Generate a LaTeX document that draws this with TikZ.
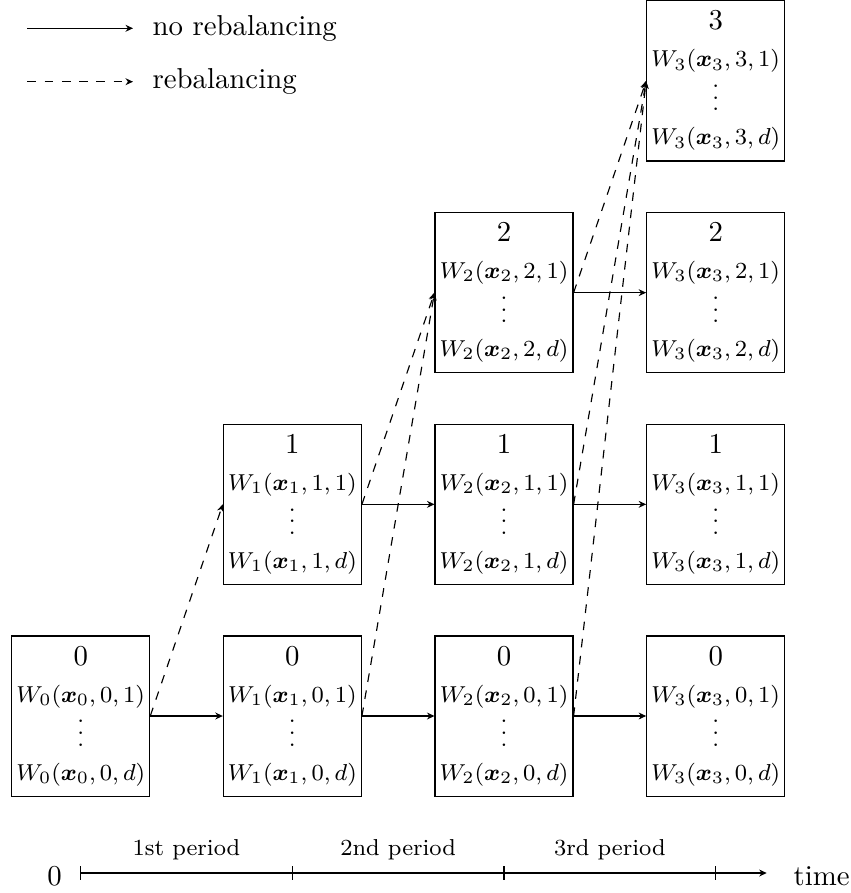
\documentclass[tikz,border=0pt]{standalone}
\usepackage{amsmath}
\usetikzlibrary{arrows.meta}
\newcommand{\myvdots}{\vbox{\baselineskip4pt\lineskiplimit0pt\hbox{.}\hbox{.}\hbox{.}}}
\begin{document}
\begin{tikzpicture}[x=0.3472pt,y=-0.3472pt,
  cell/.style={draw, line width=0.4pt, minimum width=47.9pt, minimum height=55.6pt, inner sep=0pt},
  hd/.style={anchor=base, inner sep=0pt},
  ent/.style={anchor=base, inner sep=0pt, font=\footnotesize},
  solidarrow/.style={-{Stealth[length=2.6pt,width=2.4pt]}, line width=0.4pt},
  dasharrow/.style={solidarrow, dashed},
  lbl/.style={anchor=west, inner sep=0pt},
]
\useasboundingbox (0,0) rectangle (851,893);

% cells
\foreach \t in {0,...,3}{
  \foreach \r in {0,...,\t}{
    \pgfmathsetmacro\cx{80.7+211.67*\t}
    \pgfmathsetmacro\cy{716-211.67*\r}
    \node[cell] (b\t\r) at (\cx,\cy) {};
    \node[hd] (h\t\r) at (\cx,\cy-51) {$\r$};
    \node[ent] (f\t\r) at (\cx,\cy-14) {$W_{\t}(\boldsymbol{x}_{\t},\r,1)$};
    \node[ent] (v\t\r) at (\cx,\cy+30) {\myvdots};
    \node[ent] (l\t\r) at (\cx,\cy+64) {$W_{\t}(\boldsymbol{x}_{\t},\r,d)$};
  }
}

% transitions
\foreach \t in {0,...,2}{
  \pgfmathtruncatemacro\n{\t+1}
  \foreach \r in {0,...,\t}{
    \draw[solidarrow] (b\t\r.east) -- (b\n\r.west);
    \draw[dasharrow] (b\t\r.east) -- (b\n\n.west);
  }
}

% legend
\coordinate (ls1) at (27.3,28.3);
\coordinate (le1) at (133,28.3);
\coordinate (ls2) at (27.3,81.7);
\coordinate (le2) at (133,81.7);
\draw[solidarrow] (ls1) -- (le1);
\draw[dasharrow] (ls2) -- (le2);
\node[lbl] (t1) at (152,28.3) {no rebalancing};
\node[lbl] (t2) at (152,81.7) {rebalancing};

% time axis
\coordinate (a0) at (80.7,873);
\coordinate (a1) at (292.4,873);
\coordinate (a2) at (504,873);
\coordinate (a3) at (715.7,873);
\coordinate (ae) at (766.7,873);
\draw[solidarrow] (a0) -- (ae);
\foreach \i in {0,...,3}{
  \draw[line width=0.4pt] (a\i) ++(0,-7) -- ++(0,14);
}
\node[anchor=base, inner sep=0pt] (zero) at (54.5,885) {0};
\node[anchor=base west, inner sep=0pt] (time) at (793,885) {time};
\node[anchor=base, inner sep=0pt, font=\footnotesize] (p1) at (186.5,855) {1st period};
\node[anchor=base, inner sep=0pt, font=\footnotesize] (p2) at (398.2,855) {2nd period};
\node[anchor=base, inner sep=0pt, font=\footnotesize] (p3) at (609.9,855) {3rd period};
\end{tikzpicture}
\end{document}
